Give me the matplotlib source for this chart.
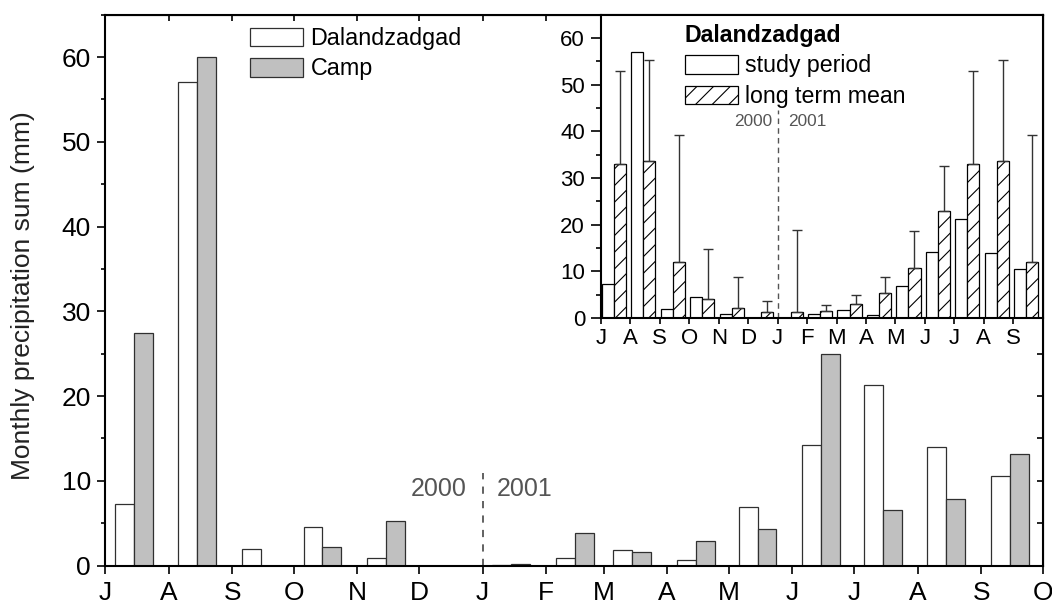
import numpy as np
import matplotlib
matplotlib.use("Agg")
import matplotlib.pyplot as plt
import matplotlib.dates as mdates
from matplotlib.ticker import MultipleLocator, FuncFormatter

plt.rcParams['font.family'] = ['Liberation Sans', 'DejaVu Sans']
plt.rcParams['hatch.linewidth'] = 0.8

# monthly sums, Jul 2000 - Sep 2001
months = ['2000-07', '2000-08', '2000-09', '2000-10', '2000-11', '2000-12',
          '2001-01', '2001-02', '2001-03', '2001-04', '2001-05', '2001-06',
          '2001-07', '2001-08', '2001-09']
month_letters = ['J', 'A', 'S', 'O', 'N', 'D', 'J', 'F', 'M', 'A', 'M', 'J', 'J', 'A', 'S']

dalandzadgad = [7.3, 57.0, 2.0, 4.6, 0.9, 0.0, 0.1, 0.85, 1.8, 0.6, 6.9, 14.2, 21.3, 14.0, 10.6]
camp = [27.4, 60.0, 0.0, 2.2, 5.2, 0.0, 0.15, 3.8, 1.65, 2.95, 4.3, 25.0, 6.5, 7.8, 13.1]

# Dalandzadgad long term mean and SD
ltm_mean = [33.0, 33.6, 12.0, 4.0, 2.2, 1.2, 1.2, 1.6, 3.0, 5.3, 10.8, 23.0, 33.0, 33.6, 12.0]
ltm_sd = [20.0, 21.7, 27.2, 10.7, 6.5, 2.4, 17.6, 1.2, 1.9, 3.5, 7.8, 9.5, 20.0, 21.7, 27.2]

edge = '#303030'
grey = '#c0c0c0'
note = '#555555'

month_start = np.array(months, dtype='datetime64[M]').astype('datetime64[D]')
mid = mdates.date2num(month_start + np.timedelta64(14, 'D'))
x_end = mdates.date2num(np.datetime64('2001-10-01'))
newyear = mdates.date2num(np.datetime64('2001-01-01'))

fig = plt.figure(figsize=(10.52, 6), dpi=100)
ax = fig.add_axes([0.0998, 0.0575, 0.8914, 0.918])

w = 9.2
b1 = ax.bar(mid - w / 2, dalandzadgad, width=w, color='white', edgecolor=edge, linewidth=0.9)
b2 = ax.bar(mid + w / 2, camp, width=w, color=grey, edgecolor=edge, linewidth=0.9)

ax.set_xlim(mid[0] - 14, x_end)
ax.set_ylim(0, 65)
ax.xaxis.set_major_locator(mdates.MonthLocator())
ax.xaxis.set_major_formatter(FuncFormatter(lambda v, pos: mdates.num2date(v).strftime('%b')[0]))
ax.yaxis.set_major_locator(MultipleLocator(10))
ax.yaxis.set_minor_locator(MultipleLocator(5))
ax.tick_params(which='major', direction='out', length=6, width=1.2, labelsize=19, pad=4)
ax.tick_params(which='minor', direction='out', length=3, width=1.2)
ax.tick_params(axis='x', pad=5)
for s in ax.spines.values():
    s.set_linewidth(1.5)

# inward ticks on the top and right frame
top = ax.secondary_xaxis('top')
top.xaxis.set_major_locator(mdates.MonthLocator())
top.tick_params(direction='in', length=4, width=1.2, labeltop=False)
right = ax.secondary_yaxis('right')
right.yaxis.set_major_locator(MultipleLocator(5))
right.tick_params(direction='in', length=4, width=1.2, labelright=False)

ax.set_ylabel('Monthly precipitation sum (mm)', fontsize=19, color='#222222')
ax.yaxis.set_label_coords(-0.075, 0.49)

ax.plot([newyear, newyear], [0, 10.9], ls=(0, (4, 4)), color=note, lw=1.3)
ax.text(newyear - 7.6, 9.0, '2000', ha='right', va='center', fontsize=18, color=note)
ax.text(newyear + 7.0, 9.0, '2001', ha='left', va='center', fontsize=18, color=note)

fig.legend([b1, b2], ['Dalandzadgad', 'Camp'], loc='upper left',
           bbox_to_anchor=(0.2376, 0.955), frameon=False, fontsize=16.8,
           handlelength=2.26, handleheight=0.86, handletextpad=0.34,
           labelspacing=0.32, borderpad=0, borderaxespad=0)

# inset: study period vs long term mean
axi = fig.add_axes([0.5713, 0.47, 0.4199, 0.5055], zorder=3)
axi.set_facecolor('white')
idx = np.arange(len(months))
wi = 0.41
i1 = axi.bar(idx + 0.235, dalandzadgad, width=wi, color='white', edgecolor='black', linewidth=0.9)
i2 = axi.bar(idx + 0.235 + wi, ltm_mean, width=wi, color='white', edgecolor='black',
             linewidth=0.9, hatch='//',
             yerr=[np.zeros(len(ltm_sd)), ltm_sd],
             error_kw=dict(ecolor='#333333', elinewidth=1.0, capsize=3.6, capthick=1.0))

axi.set_xlim(0, len(months))
axi.set_ylim(0, 65)
axi.set_xticks(idx)
axi.set_xticklabels(month_letters)
axi.yaxis.set_major_locator(MultipleLocator(10))
axi.yaxis.set_minor_locator(MultipleLocator(5))
axi.tick_params(which='major', direction='out', length=7, width=1.2, labelsize=16, pad=4.5)
axi.tick_params(which='minor', direction='out', length=3.5, width=1.2)
axi.tick_params(axis='x', length=4, pad=3)
for s in axi.spines.values():
    s.set_linewidth(1.5)

axi.plot([6, 6], [0, 44.5], ls=(0, (4, 3)), color=note, lw=1.0)
axi.text(5.8, 42.1, '2000', ha='right', va='center', fontsize=12.4, color=note)
axi.text(6.35, 42.1, '2001', ha='left', va='center', fontsize=12.4, color=note)

axi.legend([i1, i2], ['study period', 'long term mean'], title='Dalandzadgad',
           title_fontproperties={'weight': 'bold', 'size': 16.7}, alignment='left',
           loc='upper left', bbox_to_anchor=(0.651, 0.960), bbox_transform=fig.transFigure,
           frameon=False, fontsize=16.7, handlelength=2.3, handleheight=0.84,
           handletextpad=0.3, labelspacing=0.32, borderpad=0, borderaxespad=0)

fig.savefig('out.png', dpi=100)
